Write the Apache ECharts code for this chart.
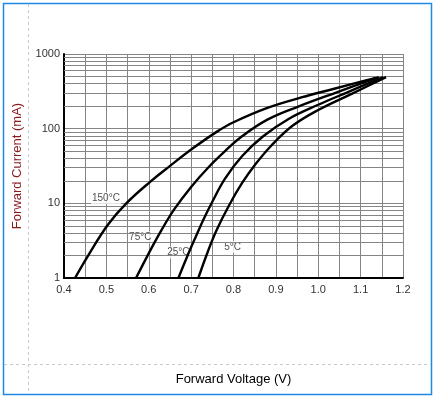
<!DOCTYPE html>
<html>
<head>
<meta charset="utf-8">
<script src="https://cdn.jsdelivr.net/npm/echarts@6/dist/echarts.min.js"></script>
<style>
    html, body { margin: 0; padding: 0; background: #fff; }
    #chart { width: 435px; height: 397px; }
</style>
</head>
<body>
<div id="chart"></div>
<script>
    // forward voltage (V) vs forward current (mA)
    const curve150 = [[0.426, 1], [0.457, 2], [0.504, 5.2], [0.547, 10], [0.606, 20], [0.651, 32], [0.705, 55],
        [0.762, 92], [0.80, 122], [0.88, 190], [0.96, 262], [1.04, 345], [1.117, 450], [1.135, 480]];
    const curve75 = [[0.570, 1], [0.60, 2.14], [0.63, 4.37], [0.66, 8.3], [0.70, 16.6], [0.74, 30], [0.78, 50],
        [0.82, 79], [0.88, 132], [0.95, 195], [1.05, 316], [1.143, 490]];
    const curve25 = [[0.670, 1], [0.69, 1.9], [0.71, 3.47], [0.73, 6.2], [0.75, 10.5], [0.78, 21.4], [0.82, 42.7],
        [0.87, 79], [0.93, 135], [1.00, 209], [1.07, 309], [1.153, 490]];
    const curve5 = [[0.717, 1], [0.74, 2.3], [0.76, 4.37], [0.79, 9.5], [0.82, 18.6], [0.85, 32.4], [0.89, 60],
        [0.94, 110], [1.00, 178], [1.08, 295], [1.16, 490]];

    const curveNames = ['150°C', '75°C', '25°C', '5°C'];
    const curveLabels = [[0.499, 11.8, '150°C'], [0.580, 3.5, '75°C'], [0.670, 2.2, '25°C'], [0.798, 2.6, '5°C']];

    const yTicks = [1, 10, 100, 1000];
    const yMinor = [2, 3, 4, 5, 6, 7, 8, 9, 20, 30, 40, 50, 60, 70, 80, 90, 200, 300, 400, 500, 600, 700, 800, 900];

    const gridColor = '#858585';

    let chart = echarts.init(document.getElementById('chart'));

    const curveSeries = [curve150, curve75, curve25, curve5].map((d, i) => ({
        name: curveNames[i],
        type: 'line',
        data: d,
        smooth: 0.4,
        symbol: 'none',
        z: 5,
        lineStyle: { color: '#000', width: 2.4 }
    }));

    const option = {
        animation: false,
        textStyle: { fontFamily: 'Liberation Sans, Arial, sans-serif' },
        grid: { left: 64, right: 32, top: 54, bottom: 119 },
        xAxis: {
            type: 'value',
            min: 0.4,
            max: 1.2,
            interval: 0.1,
            name: 'Forward Voltage (V)',
            nameLocation: 'middle',
            nameGap: 95,
            nameTextStyle: { color: '#000', fontSize: 13 },
            axisLine: { lineStyle: { color: '#000', width: 2 } },
            axisTick: { show: false },
            axisLabel: { color: '#333', fontSize: 11, margin: 6, formatter: v => v.toFixed(1) },
            splitLine: { show: true, lineStyle: { color: gridColor, width: 1 } },
            minorTick: { show: false, splitNumber: 2 },
            minorSplitLine: { show: true, lineStyle: { color: gridColor, width: 1 } }
        },
        yAxis: {
            type: 'log',
            logBase: 10,
            min: 1,
            max: 1000,
            name: 'Forward Current (mA)',
            nameLocation: 'middle',
            nameGap: 40,
            nameTextStyle: { color: '#8b1a1a', fontSize: 13 },
            axisLine: { show: true, lineStyle: { color: '#000', width: 2 } },
            axisTick: { show: false },
            axisLabel: { color: '#333', fontSize: 11, margin: 4, formatter: v => yTicks.indexOf(v) >= 0 ? String(v) : '' },
            splitLine: { show: true, lineStyle: { color: gridColor, width: 1 } }
        },
        graphic: [
            { type: 'rect', silent: true, shape: { x: 3.5, y: 3.5, width: 428, height: 391 },
              style: { fill: 'none', stroke: '#1e88e5', lineWidth: 1.5 } },
            { type: 'line', silent: true, shape: { x1: 28.5, y1: 4, x2: 28.5, y2: 394 },
              style: { stroke: '#c8c8c8', lineDash: [3, 3] } },
            { type: 'line', silent: true, shape: { x1: 4, y1: 364.5, x2: 431, y2: 364.5 },
              style: { stroke: '#c8c8c8', lineDash: [3, 3] } }
        ],
        series: [
            {
                name: 'minor',
                type: 'line',
                data: [],
                silent: true,
                z: 1,
                markLine: {
                    silent: true,
                    symbol: ['none', 'none'],
                    label: { show: false },
                    lineStyle: { color: gridColor, width: 1, type: 'solid' },
                    data: yMinor.map(v => ({ yAxis: v }))
                }
            },
            ...curveSeries,
            {
                name: 'labels',
                type: 'scatter',
                data: curveLabels,
                symbolSize: 1,
                z: 4,
                itemStyle: { color: 'rgba(0,0,0,0)' },
                label: {
                    show: true,
                    position: 'inside',
                    formatter: p => p.data[2],
                    color: '#222',
                    fontSize: 10,
                    backgroundColor: '#fff',
                    padding: [1, 1]
                }
            }
        ]
    };

    chart.setOption(option);
</script>
</body>
</html>
